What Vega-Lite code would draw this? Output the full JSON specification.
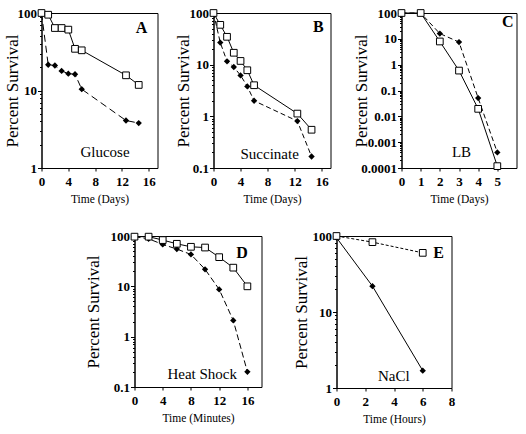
{
 "$schema": "https://vega.github.io/schema/vega-lite/v6.json",
 "padding": {"left": 2.5, "top": 6, "right": 5, "bottom": 5},
 "background": "white",
 "config": {
   "font": "Liberation Serif",
   "view": {"stroke": "black", "strokeWidth": 1},
   "axis": {"grid": false, "domainColor": "black", "tickColor": "black", "labelColor": "black", "titleColor": "black", "labelFont": "Liberation Serif", "labelFontSize": 13, "labelFontWeight": "bold", "titleFont": "Liberation Serif", "titleFontWeight": "normal", "tickSize": 3, "labelPadding": 2, "labelOverlap": false},
   "axisX": {"titleFontSize": 11.5, "labelPadding": 4, "titlePadding": 5, "labelFlush": false},
   "axisY": {"titleFontSize": 17, "titleBaseline": "middle", "labelPadding": 1, "format": "~g",
     "labelExpr": "abs(log(datum.value)/LN10 - round(log(datum.value)/LN10)) < 0.001 ? datum.label : ''",
     "tickSize": {"condition": {"test": "abs(log(datum.value)/LN10 - round(log(datum.value)/LN10)) < 0.001", "value": 4}, "value": 2}},
   "text": {"font": "Liberation Serif", "color": "black"}
 },
 "datasets": {
   "dA": [
     {"t": 0, "s": 100, "g": "s"}, {"t": 1, "s": 95, "g": "s"}, {"t": 2, "s": 64, "g": "s"}, {"t": 3, "s": 64, "g": "s"}, {"t": 4, "s": 61, "g": "s"}, {"t": 5, "s": 34.5, "g": "s"}, {"t": 6, "s": 33, "g": "s"}, {"t": 12.6, "s": 15.7, "g": "s"}, {"t": 14.5, "s": 11.8, "g": "s"},
     {"t": 0, "s": 100, "g": "d"}, {"t": 1, "s": 21.5, "g": "d"}, {"t": 2, "s": 21, "g": "d"}, {"t": 3, "s": 17.9, "g": "d"}, {"t": 4, "s": 16.5, "g": "d"}, {"t": 5, "s": 16.2, "g": "d"}, {"t": 6, "s": 10.4, "g": "d"}, {"t": 12.6, "s": 4.1, "g": "d"}, {"t": 14.5, "s": 3.8, "g": "d"}
   ],
   "dB": [
     {"t": 0, "s": 100, "g": "s"}, {"t": 1, "s": 59, "g": "s"}, {"t": 2, "s": 34.6, "g": "s"}, {"t": 3, "s": 17, "g": "s"}, {"t": 4, "s": 11.8, "g": "s"}, {"t": 5, "s": 7.8, "g": "s"}, {"t": 6, "s": 4.0, "g": "s"}, {"t": 12.4, "s": 1.13, "g": "s"}, {"t": 14.5, "s": 0.55, "g": "s"},
     {"t": 0, "s": 100, "g": "d"}, {"t": 1, "s": 26.8, "g": "d"}, {"t": 2, "s": 11.6, "g": "d"}, {"t": 3, "s": 9.0, "g": "d"}, {"t": 4, "s": 6.2, "g": "d"}, {"t": 5, "s": 3.8, "g": "d"}, {"t": 6, "s": 2.0, "g": "d"}, {"t": 12.4, "s": 0.81, "g": "d"}, {"t": 14.5, "s": 0.167, "g": "d"}
   ],
   "dC": [
     {"t": 0, "s": 100, "g": "s"}, {"t": 1, "s": 100, "g": "s"}, {"t": 2, "s": 7.9, "g": "s"}, {"t": 3, "s": 0.59, "g": "s"}, {"t": 4, "s": 0.0195, "g": "s"}, {"t": 5, "s": 0.000118, "g": "s"},
     {"t": 0, "s": 100, "g": "d"}, {"t": 1, "s": 100, "g": "d"}, {"t": 2, "s": 16, "g": "d"}, {"t": 3, "s": 7.5, "g": "d"}, {"t": 4, "s": 0.051, "g": "d"}, {"t": 5, "s": 0.0004, "g": "d"}
   ],
   "dD": [
     {"t": 0, "s": 97, "g": "s"}, {"t": 2, "s": 97, "g": "s"}, {"t": 4, "s": 83, "g": "s"}, {"t": 6, "s": 70, "g": "s"}, {"t": 8, "s": 61, "g": "s"}, {"t": 10, "s": 59, "g": "s"}, {"t": 12, "s": 38, "g": "s"}, {"t": 14, "s": 23.5, "g": "s"}, {"t": 16, "s": 10, "g": "s"},
     {"t": 0, "s": 97, "g": "d"}, {"t": 2, "s": 88, "g": "d"}, {"t": 4, "s": 68, "g": "d"}, {"t": 6, "s": 55, "g": "d"}, {"t": 8, "s": 43, "g": "d"}, {"t": 10, "s": 21.8, "g": "d"}, {"t": 12, "s": 8.7, "g": "d"}, {"t": 14, "s": 2.1, "g": "d"}, {"t": 16, "s": 0.2, "g": "d"}
   ],
   "dE": [
     {"t": 0, "s": 100, "g": "s"}, {"t": 2.5, "s": 83, "g": "s"}, {"t": 6, "s": 60, "g": "s"},
     {"t": 0, "s": 95, "g": "d"}, {"t": 2.5, "s": 21.9, "g": "d"}, {"t": 6, "s": 1.69, "g": "d"}
   ]
 },
 "spacing": 24,
 "vconcat": [
  {
   "spacing": 15,
   "hconcat": [
    {
     "width": 116, "height": 155,
     "data": {"name": "dA"},
     "encoding": {
       "x": {"field": "t", "type": "quantitative", "scale": {"domain": [0, 17.3], "nice": false, "zero": false}, "axis": {"values": [0, 4, 8, 12, 16], "title": "Time (Days)"}},
       "y": {"field": "s", "type": "quantitative", "scale": {"type": "log", "domain": [1, 100], "nice": false}, "axis": {"values": [1, 2, 3, 4, 5, 6, 7, 8, 9, 10, 20, 30, 40, 50, 60, 70, 80, 90, 100], "title": "Percent Survival", "titleX": -29, "titleY": 77.5}}
     },
     "layer": [
       {"transform": [{"filter": "datum.g == 'd'"}], "mark": {"type": "line", "color": "black", "strokeWidth": 1, "strokeDash": [7, 4]}, "encoding": {}},
       {"transform": [{"filter": "datum.g == 's'"}], "mark": {"type": "line", "color": "black", "strokeWidth": 1}, "encoding": {}},
       {"transform": [{"filter": "datum.g == 'd'"}], "mark": {"type": "point", "shape": "diamond", "filled": true, "color": "black", "size": 40, "opacity": 1}, "encoding": {}},
       {"transform": [{"filter": "datum.g == 's'"}], "mark": {"type": "point", "shape": "square", "filled": true, "fill": "white", "stroke": "black", "strokeWidth": 1, "size": 45, "opacity": 1}, "encoding": {}},
       {"data": {"values": [{"t": 14.9, "s": 64, "label": "A"}]}, "mark": {"type": "text", "fontSize": 16, "fontWeight": "bold", "baseline": "middle"}, "encoding": {"text": {"field": "label"}}},
       {"data": {"values": [{"t": 9.47, "s": 1.6, "label": "Glucose"}]}, "mark": {"type": "text", "fontSize": 15, "baseline": "middle"}, "encoding": {"text": {"field": "label"}}}
     ]
    },
    {
     "width": 117, "height": 155,
     "data": {"name": "dB"},
     "encoding": {
       "x": {"field": "t", "type": "quantitative", "scale": {"domain": [0, 17.3], "nice": false, "zero": false}, "axis": {"values": [0, 4, 8, 12, 16], "title": "Time (Days)"}},
       "y": {"field": "s", "type": "quantitative", "scale": {"type": "log", "domain": [0.1, 100], "nice": false}, "axis": {"values": [0.1, 0.2, 0.3, 0.4, 0.5, 0.6, 0.7, 0.8, 0.9, 1, 2, 3, 4, 5, 6, 7, 8, 9, 10, 20, 30, 40, 50, 60, 70, 80, 90, 100], "title": "Percent Survival", "titleX": -30.5, "titleY": 77.5}}
     },
     "layer": [
       {"transform": [{"filter": "datum.g == 'd'"}], "mark": {"type": "line", "color": "black", "strokeWidth": 1, "strokeDash": [5, 3]}, "encoding": {}},
       {"transform": [{"filter": "datum.g == 's'"}], "mark": {"type": "line", "color": "black", "strokeWidth": 1}, "encoding": {}},
       {"transform": [{"filter": "datum.g == 'd'"}], "mark": {"type": "point", "shape": "diamond", "filled": true, "color": "black", "size": 40, "opacity": 1}, "encoding": {}},
       {"transform": [{"filter": "datum.g == 's'"}], "mark": {"type": "point", "shape": "square", "filled": true, "fill": "white", "stroke": "black", "strokeWidth": 1, "size": 45, "opacity": 1}, "encoding": {}},
       {"data": {"values": [{"t": 15.5, "s": 53, "label": "B"}]}, "mark": {"type": "text", "fontSize": 16, "fontWeight": "bold", "baseline": "middle"}, "encoding": {"text": {"field": "label"}}},
       {"data": {"values": [{"t": 8.3, "s": 0.187, "label": "Succinate"}]}, "mark": {"type": "text", "fontSize": 15, "baseline": "middle"}, "encoding": {"text": {"field": "label"}}}
     ]
    },
    {
     "width": 115, "height": 155,
     "data": {"name": "dC"},
     "encoding": {
       "x": {"field": "t", "type": "quantitative", "scale": {"domain": [0, 6], "nice": false, "zero": false}, "axis": {"values": [0, 1, 2, 3, 4, 5], "title": "Time (Days)"}},
       "y": {"field": "s", "type": "quantitative", "scale": {"type": "log", "domain": [0.0001, 100], "nice": false}, "axis": {"values": [0.0001, 0.0002, 0.0003, 0.0004, 0.0005, 0.0006, 0.0007, 0.0008, 0.0009, 0.001, 0.002, 0.003, 0.004, 0.005, 0.006, 0.007, 0.008, 0.009, 0.01, 0.02, 0.03, 0.04, 0.05, 0.06, 0.07, 0.08, 0.09, 0.1, 0.2, 0.3, 0.4, 0.5, 0.6, 0.7, 0.8, 0.9, 1, 2, 3, 4, 5, 6, 7, 8, 9, 10, 20, 30, 40, 50, 60, 70, 80, 90, 100], "title": "Percent Survival", "titleX": -40.5, "titleY": 77.5, "minExtent": 54}}
     },
     "layer": [
       {"transform": [{"filter": "datum.g == 'd'"}], "mark": {"type": "line", "color": "black", "strokeWidth": 1, "strokeDash": [5, 3]}, "encoding": {}},
       {"transform": [{"filter": "datum.g == 's'"}], "mark": {"type": "line", "color": "black", "strokeWidth": 1}, "encoding": {}},
       {"transform": [{"filter": "datum.g == 'd'"}], "mark": {"type": "point", "shape": "diamond", "filled": true, "color": "black", "size": 40, "opacity": 1}, "encoding": {}},
       {"transform": [{"filter": "datum.g == 's'"}], "mark": {"type": "point", "shape": "square", "filled": true, "fill": "white", "stroke": "black", "strokeWidth": 1, "size": 45, "opacity": 1}, "encoding": {}},
       {"data": {"values": [{"t": 5.54, "s": 43.6, "label": "C"}]}, "mark": {"type": "text", "fontSize": 16, "fontWeight": "bold", "baseline": "middle"}, "encoding": {"text": {"field": "label"}}},
       {"data": {"values": [{"t": 3.13, "s": 0.00042, "label": "LB"}]}, "mark": {"type": "text", "fontSize": 15, "baseline": "middle"}, "encoding": {"text": {"field": "label"}}}
     ]
    }
   ]
  },
  {
   "spacing": 27,
   "hconcat": [
    {
     "width": 14.5, "height": 10,
     "data": {"values": []},
     "mark": {"type": "point", "opacity": 0},
     "encoding": {},
     "view": {"stroke": null}
    },
    {
     "width": 127, "height": 151,
     "data": {"name": "dD"},
     "encoding": {
       "x": {"field": "t", "type": "quantitative", "scale": {"domain": [0, 18], "nice": false, "zero": false}, "axis": {"values": [0, 4, 8, 12, 16], "title": "Time (Minutes)"}},
       "y": {"field": "s", "type": "quantitative", "scale": {"type": "log", "domain": [0.1, 100], "nice": false}, "axis": {"values": [0.1, 0.2, 0.3, 0.4, 0.5, 0.6, 0.7, 0.8, 0.9, 1, 2, 3, 4, 5, 6, 7, 8, 9, 10, 20, 30, 40, 50, 60, 70, 80, 90, 100], "title": "Percent Survival", "titleX": -41, "titleY": 75.5, "minExtent": 50}}
     },
     "layer": [
       {"transform": [{"filter": "datum.g == 'd'"}], "mark": {"type": "line", "color": "black", "strokeWidth": 1, "strokeDash": [6, 3]}, "encoding": {}},
       {"transform": [{"filter": "datum.g == 's'"}], "mark": {"type": "line", "color": "black", "strokeWidth": 1}, "encoding": {}},
       {"transform": [{"filter": "datum.g == 'd'"}], "mark": {"type": "point", "shape": "diamond", "filled": true, "color": "black", "size": 40, "opacity": 1}, "encoding": {}},
       {"transform": [{"filter": "datum.g == 's'"}], "mark": {"type": "point", "shape": "square", "filled": true, "fill": "white", "stroke": "black", "strokeWidth": 1, "size": 45, "opacity": 1}, "encoding": {}},
       {"data": {"values": [{"t": 15.25, "s": 46.8, "label": "D"}]}, "mark": {"type": "text", "fontSize": 16, "fontWeight": "bold", "baseline": "middle"}, "encoding": {"text": {"field": "label"}}},
       {"data": {"values": [{"t": 9.6, "s": 0.178, "label": "Heat Shock"}]}, "mark": {"type": "text", "fontSize": 15, "baseline": "middle"}, "encoding": {"text": {"field": "label"}}}
     ]
    },
    {
     "width": 115, "height": 152,
     "data": {"name": "dE"},
     "encoding": {
       "x": {"field": "t", "type": "quantitative", "scale": {"domain": [0, 8], "nice": false, "zero": false}, "axis": {"values": [0, 2, 4, 6, 8], "title": "Time (Hours)"}},
       "y": {"field": "s", "type": "quantitative", "scale": {"type": "log", "domain": [1, 100], "nice": false}, "axis": {"values": [1, 2, 3, 4, 5, 6, 7, 8, 9, 10, 20, 30, 40, 50, 60, 70, 80, 90, 100], "title": "Percent Survival", "titleX": -34.7, "titleY": 76, "minExtent": 46}}
     },
     "layer": [
       {"transform": [{"filter": "datum.g == 'd'"}], "mark": {"type": "line", "color": "black", "strokeWidth": 1}, "encoding": {}},
       {"transform": [{"filter": "datum.g == 's'"}], "mark": {"type": "line", "color": "black", "strokeWidth": 1, "strokeDash": [3, 2]}, "encoding": {}},
       {"transform": [{"filter": "datum.g == 'd'"}], "mark": {"type": "point", "shape": "diamond", "filled": true, "color": "black", "size": 40, "opacity": 1}, "encoding": {}},
       {"transform": [{"filter": "datum.g == 's'"}], "mark": {"type": "point", "shape": "square", "filled": true, "fill": "white", "stroke": "black", "strokeWidth": 1, "size": 45, "opacity": 1}, "encoding": {}},
       {"data": {"values": [{"t": 7.1, "s": 60.5, "label": "E"}]}, "mark": {"type": "text", "fontSize": 16, "fontWeight": "bold", "baseline": "middle"}, "encoding": {"text": {"field": "label"}}},
       {"data": {"values": [{"t": 3.99, "s": 1.45, "label": "NaCl"}]}, "mark": {"type": "text", "fontSize": 15, "baseline": "middle"}, "encoding": {"text": {"field": "label"}}}
     ]
    }
   ]
  }
 ]
}
